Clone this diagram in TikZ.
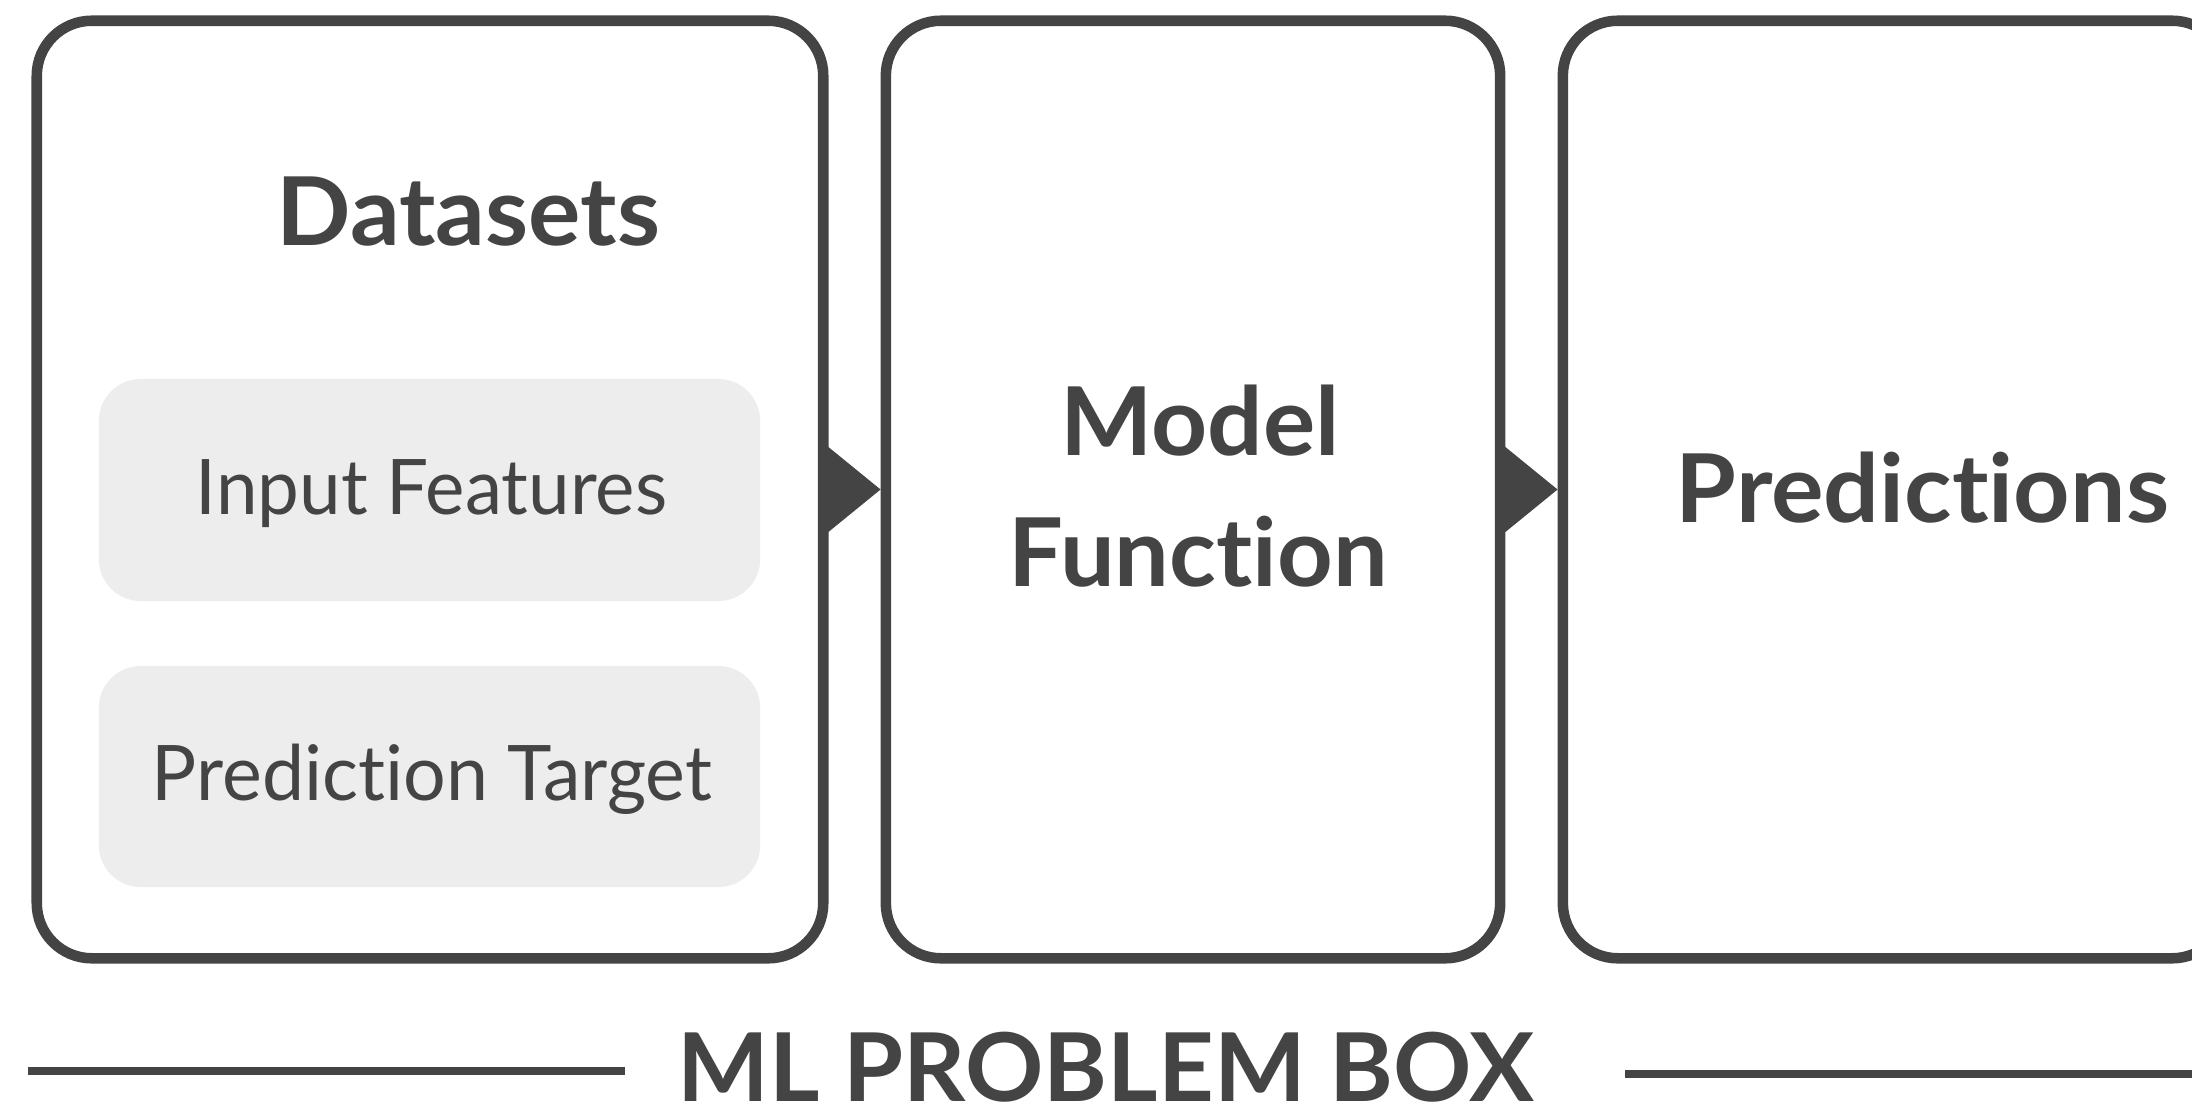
\documentclass[tikz,border=0pt]{standalone}
\usepackage{fontspec}
\setmainfont{Lato}[Ligatures={NoCommon}]
\usetikzlibrary{arrows.meta}

\definecolor{ink}{HTML}{444444}
\definecolor{panel}{HTML}{EDEDED}

% stretch a text horizontally to a given width, keeping its height
\newcommand{\fitw}[2]{\resizebox{#1}{\height}{#2}}

\tikzset{
  stage/.style={draw=ink, line width=3pt, rounded corners=0.55cm, fill=white,
    inner sep=0pt, outer sep=1.5pt},
  field/.style={fill=panel, draw=none, rounded corners=0.42cm, inner sep=0pt},
  heading/.style={text=ink, inner sep=0pt, anchor=base,
    font=\fontsize{27}{32}\selectfont\bfseries},
  fieldtext/.style={text=ink, inner sep=0pt, anchor=base,
    font=\fontsize{21.8}{26}\selectfont},
  flow/.style={draw=ink, line width=0.5pt,
    -{Triangle[length=5.3mm, width=8.6mm, fill=ink]}},
  rule/.style={draw=ink, line width=2.5pt},
}

\begin{document}
\begin{tikzpicture}[x=0.01cm, y=-0.01cm]
  \useasboundingbox (0,0) rectangle (2192,1112);
  \clip (0,0) rectangle (2192,1112);

  % the three stages
  \node[stage, minimum width=7.86cm, minimum height=9.37cm] (data) at (430,489.5) {};
  \node[stage, minimum width=6.14cm, minimum height=9.37cm] (model) at (1193,489.5) {};
  \node[stage, minimum width=6.64cm, minimum height=9.37cm] (pred) at (1895,489.5) {};

  % parts of the dataset
  \node[field, minimum width=6.61cm, minimum height=2.22cm] (inputs) at (429.5,490) {};
  \node[field, minimum width=6.61cm, minimum height=2.21cm] (target) at (429.5,776.5) {};

  % labels
  \node[heading] (tdata) at (468.5,245) {\fitw{3.83cm}{Datasets}};
  \node[heading] (tmodel1) at (1200,455) {\fitw{2.79cm}{Model}};
  \node[heading] (tmodel2) at (1198,586) {\fitw{3.79cm}{Function}};
  \node[heading] (tpred) at (1922.5,522) {\fitw{4.93cm}{Predictions}};
  \node[fieldtext] (tinputs) at (431.5,514) {\fitw{4.71cm}{Input Features}};
  \node[fieldtext] (ttarget) at (432,800) {\fitw{5.60cm}{Prediction Target}};

  % flow between the stages
  \draw[flow] (data.east) -- (model.west);
  \draw[flow] (model.east) -- (pred.west);

  % caption with rules on both sides
  \node[heading] (title) at (1106,1101) {\fitw{8.56cm}{ML PROBLEM BOX}};
  \coordinate (ruleAa) at (28,1071);
  \coordinate (ruleAb) at (625,1071);
  \coordinate (ruleBa) at (1625,1074);
  \coordinate (ruleBb) at (2200,1074);
  \draw[rule] (ruleAa) -- (ruleAb);
  \draw[rule] (ruleBa) -- (ruleBb);
\end{tikzpicture}
\end{document}
